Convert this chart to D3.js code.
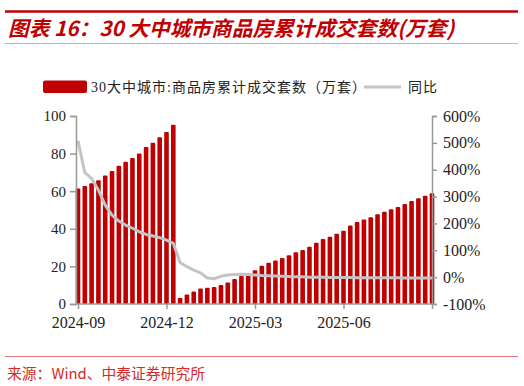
<!DOCTYPE html>
<html>
<head>
<meta charset="utf-8">
<script src="https://cdn.jsdelivr.net/npm/d3@7"></script>
<style>
  body { margin: 0; background: #fff; }
  svg { display: block; }
</style>
</head>
<body>
<div class="chart"></div>
<script>
// Weekly points, 2024-09 .. 2025-09
const tickLabels = ['2024-09', '2024-12', '2025-03', '2025-06', ''];
const tickIndex = [0, 13, 26, 39, 52];

// 30 cities cumulative transactions (10k units)
const volume = [
  61.4, 62.8, 64.2, 65.8, 68.3, 70.8, 73.6, 75.6, 77.7, 80.0, 83.5, 85.8, 88.7, 91.5, 95.4,
  3.2, 5.1, 6.6, 8.2, 8.7, 9.0, 10.1, 11.5, 13.3, 14.9, 16.1, 17.9, 20.4, 22.0, 23.2,
  24.5, 25.9, 27.5, 28.7, 30.5, 32.6, 34.6, 35.8, 37.4, 39.0, 41.7, 43.6, 45.0, 46.1,
  47.7, 49.1, 50.4, 51.6, 53.2, 54.8, 56.2, 57.6, 58.9
];

// YoY (%)
const yoy = [
  508, 389, 368, 324, 268, 231, 209, 194, 182, 169, 159, 153, 147, 138, 126,
  54, 39, 26, 16, -3, -6, 3, 8, 10, 11, 10, 8, 6, 5, 4,
  3, 2, 1, 1, 0, 0, 0, -1, -1, -1, -1, -2, -2, -2,
  -2, -2, -2, -2, -3, -3, -3, -3, -3
];

const leftTicks = [0, 20, 40, 60, 80, 100];
const rightTicks = [-100, 0, 100, 200, 300, 400, 500, 600];

const width = 524, height = 386;
const red = '#c00000', grey = '#c4c4c4', axisGrey = '#999';
const serif = '"Liberation Serif", "Times New Roman", "Noto Sans CJK SC", serif';

const svg = d3.select('.chart').append('svg')
    .attr('width', width)
    .attr('height', height);

// Header lines and title
svg.append('line').attr('x1', 5).attr('x2', 518).attr('y1', 11.5).attr('y2', 11.5)
    .attr('stroke', red).attr('stroke-width', 2.5);
svg.append('line').attr('x1', 5).attr('x2', 518).attr('y1', 43.5).attr('y2', 43.5)
    .attr('stroke', '#e8a8a8').attr('stroke-width', 1);
svg.append('text')
    .attr('x', 8).attr('y', 36)
    .attr('fill', red)
    .style('font-family', '"Noto Sans CJK SC", sans-serif')
    .style('font-size', '20.7px')
    .style('font-weight', 'bold')
    .style('font-style', 'italic')
    .text('图表 16：30 大中城市商品房累计成交套数(万套)');

// Scales
const x = d3.scalePoint().domain(d3.range(volume.length)).range([78, 432]);
const yLeft = d3.scaleLinear().domain([0, 100]).range([304, 116]);
const yRight = d3.scaleLinear().domain([-100, 600]).range([304, 116]);
const barW = 4.6;

// Bars
svg.append('g').selectAll('rect')
    .data(volume)
    .join('rect')
    .attr('x', (d, i) => x(i) - barW / 2)
    .attr('y', d => yLeft(d))
    .attr('width', barW)
    .attr('height', d => yLeft(0) - yLeft(d))
    .attr('rx', 1)
    .attr('fill', red);

// YoY line
const line = d3.line()
    .x((d, i) => x(i))
    .y(d => yRight(d));
svg.append('path')
    .datum(yoy)
    .attr('d', line)
    .attr('fill', 'none')
    .attr('stroke', grey)
    .attr('stroke-width', 3)
    .attr('stroke-linejoin', 'round');

// Left axis
const gl = svg.append('g').attr('transform', 'translate(76,0)')
    .call(d3.axisLeft(yLeft).tickValues(leftTicks).tickSize(6).tickPadding(4));
// Right axis
const gr = svg.append('g').attr('transform', 'translate(432,0)')
    .call(d3.axisRight(yRight).tickValues(rightTicks).tickSize(5).tickPadding(6).tickFormat(d => d + '%'));
// X axis
const gx = svg.append('g').attr('transform', 'translate(0,304)')
    .call(d3.axisBottom(x).tickValues(tickIndex).tickSize(5).tickPadding(8)
        .tickFormat((d, i) => tickLabels[i]));
gx.select('.domain').attr('d', 'M76,0H432');

[gl, gr, gx].forEach(g => {
    g.select('.domain').attr('stroke', axisGrey).attr('stroke-width', 1.5);
    g.selectAll('.tick line').attr('stroke', axisGrey).attr('stroke-width', 1.5);
    g.selectAll('text').attr('fill', '#222').style('font-family', serif).style('font-size', '16px');
});
gl.selectAll('text').style('font-size', '15px');

// Legend
const legend = svg.append('g');
legend.append('rect').attr('x', 43).attr('y', 80.5).attr('width', 44).attr('height', 12.5)
    .attr('rx', 2).attr('fill', red);
legend.append('text').attr('x', 91).attr('y', 92)
    .style('font-family', serif).style('font-size', '14px').style('letter-spacing', '1px')
    .attr('fill', '#222')
    .text('30大中城市:商品房累计成交套数（万套）');
legend.append('line').attr('x1', 364).attr('x2', 401).attr('y1', 87).attr('y2', 87)
    .attr('stroke', grey).attr('stroke-width', 3);
legend.append('text').attr('x', 408).attr('y', 92)
    .style('font-family', serif).style('font-size', '14px').style('letter-spacing', '1px')
    .attr('fill', '#222')
    .text('同比');

// Source
svg.append('line').attr('x1', 5).attr('x2', 518).attr('y1', 356.5).attr('y2', 356.5)
    .attr('stroke', '#e07a7a').attr('stroke-width', 1);
svg.append('text').attr('x', 7).attr('y', 379)
    .attr('fill', '#d42a2a')
    .style('font-family', '"Noto Sans CJK SC", sans-serif')
    .style('font-size', '14.8px')
    .text('来源：Wind、中泰证券研究所');
</script>
</body>
</html>
